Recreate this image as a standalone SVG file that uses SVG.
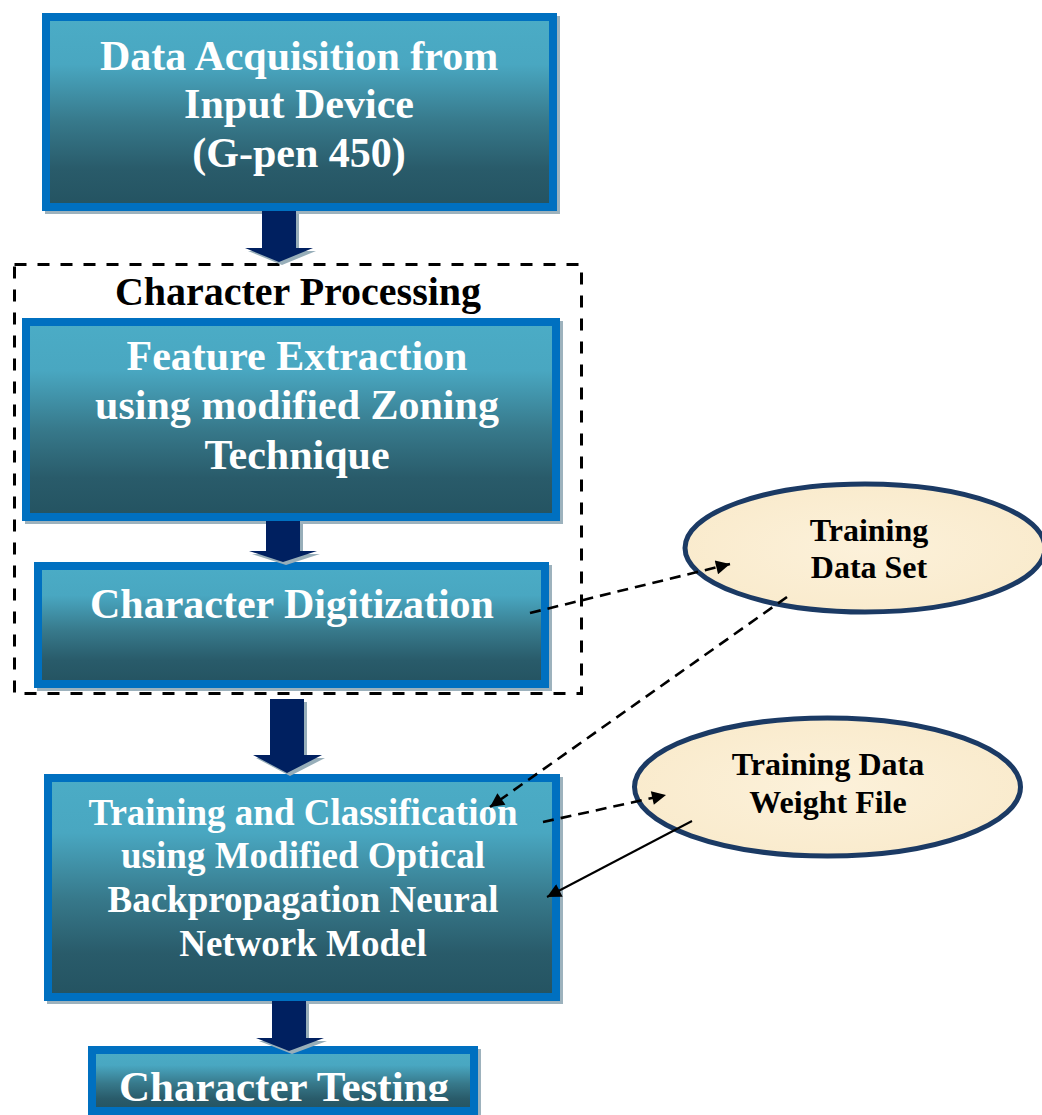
<svg xmlns="http://www.w3.org/2000/svg" width="1042" height="1115" viewBox="0 0 1042 1115">
  <defs>
    <linearGradient id="boxGrad" x1="0" y1="0" x2="0" y2="1">
      <stop offset="0" stop-color="#4BACC6"/>
      <stop offset="0.25" stop-color="#49A7C1"/>
      <stop offset="0.55" stop-color="#37798B"/>
      <stop offset="0.8" stop-color="#295B6A"/>
      <stop offset="1" stop-color="#245361"/>
    </linearGradient>
    <radialGradient id="ellGrad" cx="0.5" cy="0.5" r="0.6">
      <stop offset="0" stop-color="#FCF1DA"/>
      <stop offset="1" stop-color="#F9EACB"/>
    </radialGradient>
    <marker id="ah" viewBox="0 0 10 10" refX="10" refY="5" markerWidth="18" markerHeight="14" markerUnits="userSpaceOnUse" orient="auto">
      <path d="M0,0 L10,5 L0,10 z" fill="#000"/>
    </marker>
    <clipPath id="clipTest">
      <rect x="0" y="1040" width="600" height="61"/>
    </clipPath>
  </defs>
  <style>
    .shadow { fill: #9DB2BD; }
    .box { fill: url(#boxGrad); stroke: #0070C0; stroke-width: 8; }
    .wt { font-family: 'Liberation Serif', 'Times New Roman', serif; font-weight: bold; fill: #FFFFFF; text-anchor: middle; }
    .bt { font-family: 'Liberation Serif', 'Times New Roman', serif; font-weight: bold; fill: #000000; text-anchor: middle; }
    .ell { fill: url(#ellGrad); stroke: #1B3A64; stroke-width: 5; }
    .dash { fill: none; stroke: #000; stroke-width: 2.6; stroke-dasharray: 11 7; }
    .solid { fill: none; stroke: #000; stroke-width: 2; }
    .barrow { fill: #002060; }
    .bshadow { fill: #97AEB9; }
  </style>

  <!-- Group container: Character Processing -->
  <g id="character-processing">
    <rect x="14.5" y="264.5" width="567" height="429" fill="none" stroke="#000" stroke-width="3" stroke-dasharray="12 11"/>
    <text class="bt" x="298" y="305" font-size="40">Character Processing</text>
  </g>

  <g id="data-acquisition">
    <rect class="shadow" x="45" y="16" width="515" height="198"/>
    <rect class="box" x="46" y="17" width="507" height="190"/>
    <text class="wt" font-size="42" x="299" y="70">Data Acquisition from</text>
    <text class="wt" font-size="42" x="299" y="118">Input Device</text>
    <text class="wt" font-size="42" x="299" y="167">(G-pen 450)</text>
  </g>

  <g id="feature-extraction">
    <rect class="shadow" x="25" y="321" width="538" height="203"/>
    <rect class="box" x="26" y="322" width="530" height="195"/>
    <text class="wt" font-size="42" x="297" y="370">Feature Extraction</text>
    <text class="wt" font-size="42" x="297" y="419">using modified Zoning</text>
    <text class="wt" font-size="42" x="297" y="469">Technique</text>
  </g>

  <g id="character-digitization">
    <rect class="shadow" x="37" y="565" width="515" height="126"/>
    <rect class="box" x="38" y="566" width="507" height="118"/>
    <text class="wt" font-size="42" x="292" y="618">Character Digitization</text>
  </g>

  <g id="training-classification">
    <rect class="shadow" x="47" y="777" width="516" height="227"/>
    <rect class="box" x="48" y="778" width="508" height="219"/>
    <text class="wt" font-size="37" x="303" y="825">Training and Classification</text>
    <text class="wt" font-size="37" x="303" y="868">using Modified Optical</text>
    <text class="wt" font-size="37" x="303" y="912">Backpropagation Neural</text>
    <text class="wt" font-size="37" x="303" y="956">Network Model</text>
  </g>

  <g id="character-testing">
    <rect class="shadow" x="91" y="1049" width="390" height="70"/>
    <rect class="box" x="92" y="1050" width="382" height="61"/>
    <text class="wt" font-size="43" x="284" y="1101" clip-path="url(#clipTest)">Character Testing</text>
  </g>

  <g id="training-data-set">
    <ellipse class="ell" cx="865" cy="548" rx="180" ry="64"/>
    <text class="bt" font-size="32" x="869" y="541">Training</text>
    <text class="bt" font-size="32" x="869" y="578">Data Set</text>
  </g>

  <g id="training-weight-file">
    <ellipse class="ell" cx="827.5" cy="787" rx="193" ry="69"/>
    <text class="bt" font-size="32" x="828" y="775">Training Data</text>
    <text class="bt" font-size="32" x="828" y="813">Weight File</text>
  </g>

  <g id="connectors">
    <!-- block arrows -->
    <path class="bshadow" d="M265,214 H299 V251 H316 L282,265 L248,251 H265 Z"/>
    <path class="barrow" d="M262,211 H296 V248 H313 L279,262 L245,248 H262 Z"/>
    <path class="bshadow" d="M269,524 H303 V554 H320 L286,565 L252,554 H269 Z"/>
    <path class="barrow" d="M266,521 H300 V551 H317 L283,562 L249,551 H266 Z"/>
    <path class="bshadow" d="M273,702 H307 V758 H325 L290,776 L256,758 H273 Z"/>
    <path class="barrow" d="M270,699 H304 V755 H322 L287,773 L253,755 H270 Z"/>
    <path class="bshadow" d="M275,1004 H309 V1041 H327 L292,1054 L259,1041 H275 Z"/>
    <path class="barrow" d="M272,1001 H306 V1038 H324 L289,1051 L256,1038 H272 Z"/>
    <!-- dashed / solid connectors -->
    <line class="dash" x1="530" y1="613" x2="730" y2="564" marker-end="url(#ah)"/>
    <line class="dash" x1="787" y1="597" x2="490" y2="807" marker-end="url(#ah)"/>
    <line class="dash" x1="543" y1="822" x2="666" y2="795" marker-end="url(#ah)"/>
    <line class="solid" x1="692" y1="821" x2="547" y2="897" marker-end="url(#ah)"/>
  </g>
</svg>
